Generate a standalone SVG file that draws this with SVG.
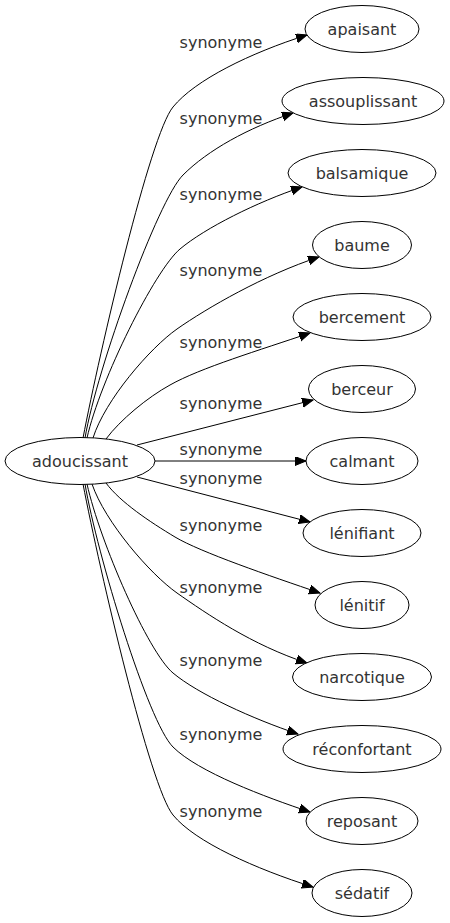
<svg xmlns="http://www.w3.org/2000/svg" width="450" height="923" viewBox="0 0 450 923">
<style>
.n ellipse{fill:#fff;stroke:#000;stroke-width:1}
text{font-family:"DejaVu Sans","Liberation Sans",sans-serif;font-size:16px;fill:#333;text-anchor:middle}
.e path{fill:none;stroke:#000;stroke-width:1;marker-end:url(#ah)}
</style>
<defs>
<marker id="ah" markerUnits="userSpaceOnUse" markerWidth="12" markerHeight="10" refX="11" refY="4.5" orient="auto">
<path d="M0,0 L11,4.5 L0,9 z" fill="#000" stroke="#000" stroke-width="1"/>
</marker>
</defs>
<rect width="450" height="923" fill="#fff"/>
<g id="edges" class="e">
<path d="M83,438 C100,350 150,135 173,107 C195,80 250,53 307,35"/>
<path d="M85,438 C97,368 158,200 183,175 C208,150 248,128 293,113"/>
<path d="M87,438 C100,380 155,270 180,249 C205,228 257,202 302,187"/>
<path d="M93,438 C105,400 150,348 177,329 C207,308 264,275 319,257"/>
<path d="M106,439 C120,420 148,397 170,385 C200,368 260,350 310,333"/>
<path d="M137,445 L313,400"/>
<path d="M155,461 L306,461"/>
<path d="M137,477 L310,522"/>
<path d="M106,483 C120,502 150,522 175,537 C200,552 270,576 320,593"/>
<path d="M92,484 C105,522 150,574 177,593 C207,614 252,645 307,663"/>
<path d="M87,484 C100,542 148,652 173,673 C198,694 253,719 298,734"/>
<path d="M85,484 C97,554 148,722 173,747 C198,772 265,797 310,812"/>
<path d="M83,484 C100,572 150,787 173,815 C195,842 256,869 313,887"/>
</g>
<g id="labels">
<text x="221" y="48">synonyme</text>
<text x="221" y="124">synonyme</text>
<text x="221" y="200">synonyme</text>
<text x="221" y="276">synonyme</text>
<text x="221" y="348">synonyme</text>
<text x="221" y="409">synonyme</text>
<text x="221" y="455">synonyme</text>
<text x="221" y="484">synonyme</text>
<text x="221" y="531">synonyme</text>
<text x="221" y="593">synonyme</text>
<text x="221" y="666">synonyme</text>
<text x="221" y="740">synonyme</text>
<text x="221" y="817">synonyme</text>
</g>
<g id="adoucissant" class="n"><ellipse cx="80" cy="461" rx="75" ry="23.5"/><text x="80" y="466.5">adoucissant</text></g>
<g id="apaisant" class="n"><ellipse cx="362" cy="29" rx="57" ry="23.5"/><text x="362" y="34.5">apaisant</text></g>
<g id="assouplissant" class="n"><ellipse cx="363" cy="101" rx="81" ry="23.5"/><text x="363" y="106.5">assouplissant</text></g>
<g id="balsamique" class="n"><ellipse cx="362" cy="173" rx="74" ry="23.5"/><text x="362" y="178.5">balsamique</text></g>
<g id="baume" class="n"><ellipse cx="362" cy="245" rx="49.5" ry="23.5"/><text x="362" y="250.5">baume</text></g>
<g id="bercement" class="n"><ellipse cx="362" cy="317" rx="69" ry="23.5"/><text x="362" y="322.5">bercement</text></g>
<g id="berceur" class="n"><ellipse cx="362" cy="389" rx="53.5" ry="23.5"/><text x="362" y="394.5">berceur</text></g>
<g id="calmant" class="n"><ellipse cx="362" cy="461" rx="56" ry="23.5"/><text x="362" y="466.5">calmant</text></g>
<g id="lenifiant" class="n"><ellipse cx="362" cy="533" rx="59" ry="23.5"/><text x="362" y="538.5">lénifiant</text></g>
<g id="lenitif" class="n"><ellipse cx="362" cy="605" rx="47" ry="23.5"/><text x="362" y="610.5">lénitif</text></g>
<g id="narcotique" class="n"><ellipse cx="362" cy="677" rx="69.5" ry="23.5"/><text x="362" y="682.5">narcotique</text></g>
<g id="reconfortant" class="n"><ellipse cx="362" cy="749" rx="79" ry="23.5"/><text x="362" y="754.5">réconfortant</text></g>
<g id="reposant" class="n"><ellipse cx="362" cy="821" rx="56" ry="23.5"/><text x="362" y="826.5">reposant</text></g>
<g id="sedatif" class="n"><ellipse cx="362" cy="893" rx="50" ry="23.5"/><text x="362" y="898.5">sédatif</text></g>
</svg>
